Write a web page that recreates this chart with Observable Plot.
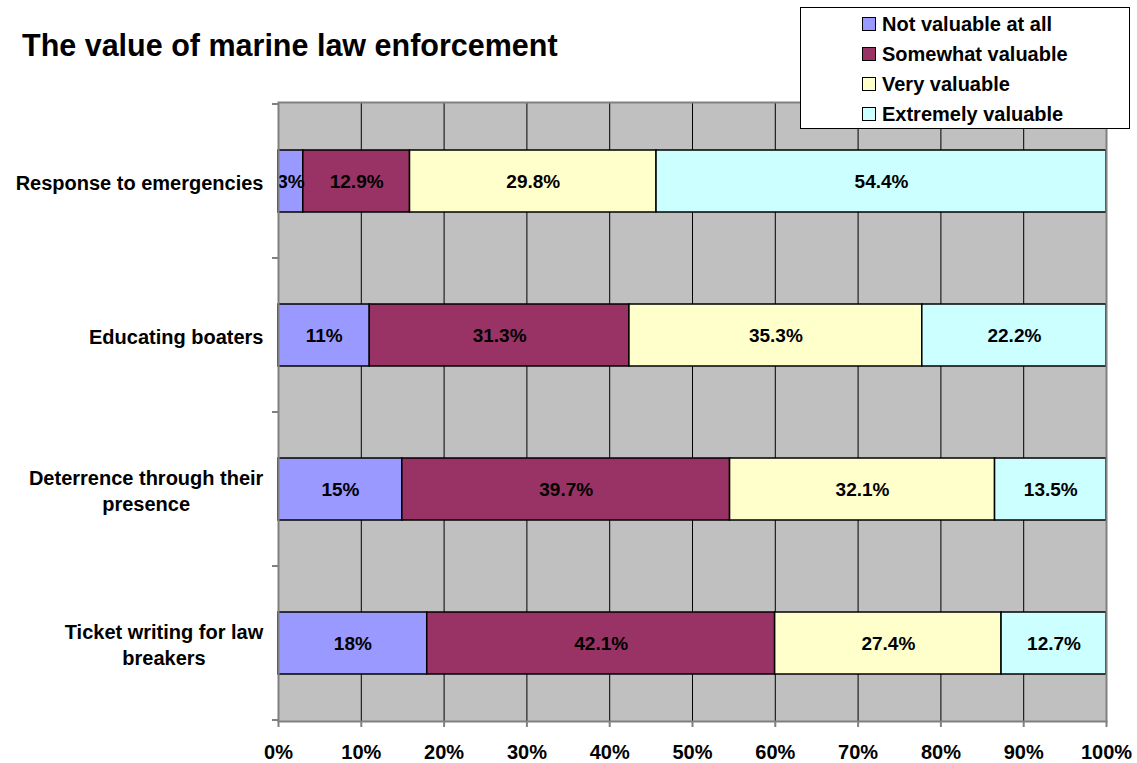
<!DOCTYPE html>
<html><head><meta charset="utf-8">
<script src="https://cdn.jsdelivr.net/npm/d3@7"></script>
<script src="https://cdn.jsdelivr.net/npm/@observablehq/plot@0.6"></script>
<style>
body{margin:0;background:#fff;font-family:"Liberation Sans",Arial,sans-serif;}
#wrap{position:relative;width:1137px;height:763px;overflow:hidden;}
#chart{position:absolute;left:0;top:0;}
#title{position:absolute;left:22px;top:30px;font-size:30.5px;font-weight:bold;line-height:1;white-space:nowrap;}
#legend{position:absolute;left:800px;top:7px;width:328px;height:120px;border:1px solid #000;background:#fff;}
.item{position:absolute;left:61px;height:30px;display:flex;align-items:center;font-size:20px;font-weight:bold;white-space:nowrap;}
.sw{width:12px;height:12px;border:1px solid #000;margin-right:6px;}
</style></head><body>
<div id="wrap"><div id="chart"></div><div id="title">The value of marine law enforcement</div><div id="legend"></div></div>
<script>
const categories = ["Response to emergencies", "Educating boaters", "Deterrence through their presence", "Ticket writing for law breakers"];
const categoryLabels = ["Response to emergencies", "Educating boaters", "Deterrence through their\npresence", "Ticket writing for law\nbreakers"];
const series = ["Not valuable at all", "Somewhat valuable", "Very valuable", "Extremely valuable"];
const colors = ["#9999FF", "#993366", "#FFFFCC", "#CCFFFF"];
const notValuable = [3, 11, 15, 18];
const somewhatValuable = [12.9, 31.3, 39.7, 42.1];
const veryValuable = [29.8, 35.3, 32.1, 27.4];
const extremelyValuable = [54.4, 22.2, 13.5, 12.7];
const xTicks = [0, 0.1, 0.2, 0.3, 0.4, 0.5, 0.6, 0.7, 0.8, 0.9, 1];

const seriesValues = [notValuable, somewhatValuable, veryValuable, extremelyValuable];
const table = [];
series.forEach((s, si) => categories.forEach((c, ci) => table.push({category: c, series: s, value: seriesValues[si][ci]})));

const font = '"Liberation Sans", Arial, sans-serif';

function leftTicks(index, scales, values, dims) {
  const y = scales.y;
  const g = d3.create("svg:g").attr("stroke", "#808080").attr("stroke-width", 2);
  const step = typeof y.step === "function" ? y.step() : (dims.height - dims.marginTop - dims.marginBottom) / categories.length;
  const bw = typeof y.bandwidth === "function" ? y.bandwidth() : step * 0.4;
  const half = (step - bw) / 2;
  const pos = categories.map(c => y(c) - half);
  pos.push(y(categories[categories.length - 1]) + bw + half);
  for (const p of pos) {
    g.append("line").attr("x1", dims.marginLeft - 6).attr("x2", dims.marginLeft).attr("y1", p).attr("y2", p);
  }
  return g.node();
}

const plot = Plot.plot({
  width: 1137, height: 763,
  marginTop: 102, marginBottom: 42, marginLeft: 278, marginRight: 31,
  style: {fontFamily: font, background: "transparent", overflow: "visible"},
  x: {domain: [0, 1]},
  y: {domain: categories, paddingInner: 0.6, paddingOuter: 0.3},
  color: {domain: series, range: colors},
  marks: [
    Plot.frame({fill: "#C0C0C0"}),
    Plot.gridX(xTicks.slice(1, -1), {stroke: "#000", strokeOpacity: 1, strokeWidth: 1}),
    Plot.barX(table, Plot.stackX({x: "value", y: "category", z: "series", fill: "series", offset: "normalize", stroke: "#000", strokeWidth: 1.5})),
    Plot.text(table, Plot.stackX({x: "value", y: "category", z: "series", offset: "normalize", text: d => `${d.value}%`, fontSize: 19, fontWeight: "bold", fill: "#000"})),
    Plot.frame({stroke: "#808080", strokeWidth: 2}),
    Plot.axisX({ticks: xTicks, tickFormat: d3.format(".0%"), tickSize: 6, tickPadding: 17, stroke: "#808080", strokeWidth: 2, fontSize: 20, fontWeight: "bold", label: null}),
    Plot.axisY({tickSize: 0, tickPadding: 15, tickFormat: d => categoryLabels[categories.indexOf(d)], fontSize: 20, fontWeight: "bold", lineHeight: 1.3, label: null}),
    leftTicks
  ]
});
document.getElementById("chart").appendChild(plot);

// center wrapped category labels within their block (as in the original)
plot.querySelectorAll('g[aria-label="y-axis tick label"] text').forEach(t => {
  const w = t.getBBox().width;
  t.setAttribute("text-anchor", "middle");
  t.setAttribute("transform", (t.getAttribute("transform") || "") + ` translate(${-w / 2},0)`);
});

const legend = document.getElementById("legend");
series.forEach((s, i) => {
  const item = document.createElement("div");
  item.className = "item";
  item.style.top = (1 + 30 * i) + "px";
  const sw = document.createElement("div");
  sw.className = "sw";
  sw.style.background = colors[i];
  const label = document.createElement("span");
  label.textContent = s;
  item.appendChild(sw);
  item.appendChild(label);
  legend.appendChild(item);
});
</script>
</body></html>
